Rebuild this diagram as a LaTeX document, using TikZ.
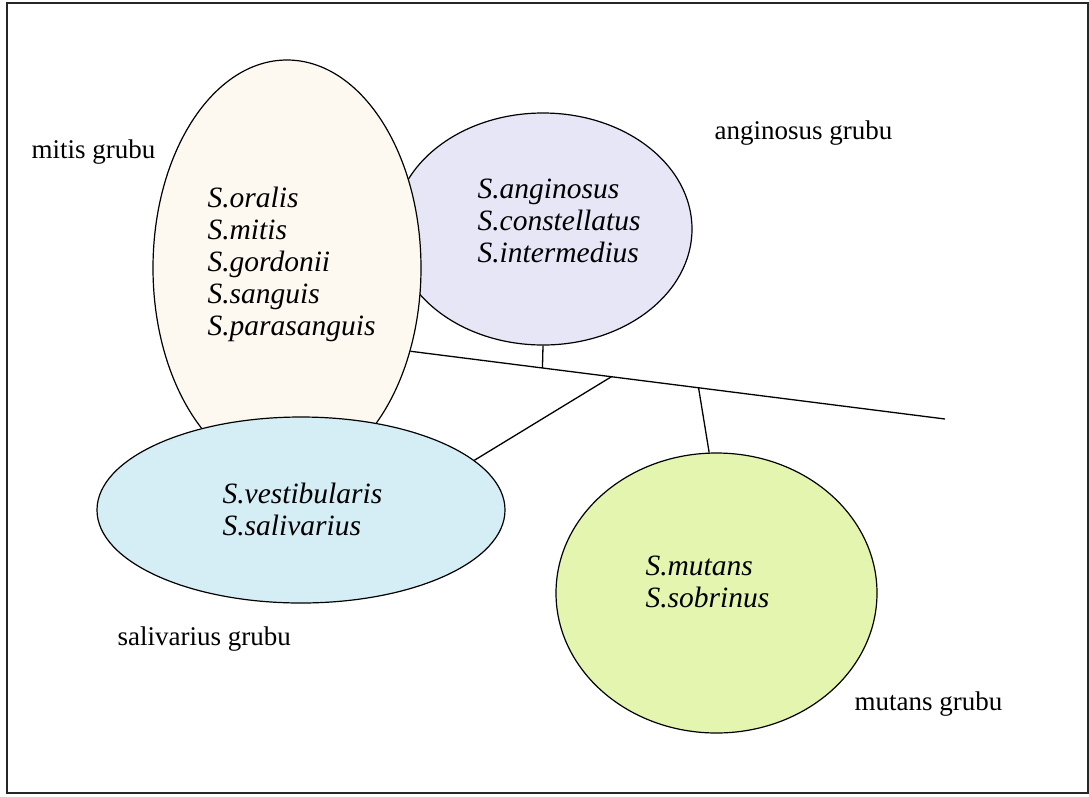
\documentclass[tikz,border=0pt]{standalone}
\usepackage{fontspec}
\setmainfont{Liberation Serif}
\usetikzlibrary{shapes.geometric,calc}
\definecolor{mitisfill}{HTML}{FDF9F0}
\definecolor{anginfill}{HTML}{E6E6F6}
\definecolor{salivfill}{HTML}{D5EEF6}
\definecolor{mutansfill}{HTML}{E4F5B0}

\begin{document}
\begin{tikzpicture}[x=1pt,y=-1pt,
	grp/.style={ellipse,draw,line width=1.2pt,inner sep=0pt},
	species/.style={anchor=base west,align=left,font=\fontsize{29.5}{32}\selectfont\itshape},
	grplabel/.style={anchor=base west,font=\fontsize{27}{32}\selectfont}]
	\useasboundingbox (0,0) rectangle (1089,796);
	\draw[line width=1.6pt,black!85] (7,3) rectangle (1088,793);
	% the four groups
	\node[grp,fill=anginfill,minimum width=298pt,minimum height=232pt] (angin) at (543,229) {};
	\node[grp,fill=mitisfill,minimum width=268pt,minimum height=416pt] (mitis) at (287,268) {};
	\node[grp,fill=salivfill,minimum width=408pt,minimum height=186pt] (saliv) at (301,510) {};
	\node[grp,fill=mutansfill,minimum width=321pt,minimum height=280pt] (mutans) at (716.5,593) {};
	% species lists (anchored at the last line)
	\node[species] (mitislist) at (204,335) {S.oralis\\S.mitis\\S.gordonii\\S.sanguis\\S.parasanguis};
	\node[species] (anginlist) at (474,262) {S.anginosus\\S.constellatus\\S.intermedius};
	\node[species] (salivlist) at (219,535) {S.vestibularis\\S.salivarius};
	\node[species] (mutanslist) at (642,607) {S.mutans\\S.sobrinus};
	% group names
	\node[grplabel] (mitisname) at (28,158) {mitis grubu};
	\node[grplabel] (anginname) at (711,139) {anginosus grubu};
	\node[grplabel] (salivname) at (114,645) {salivarius grubu};
	\node[grplabel] (mutansname) at (851,710) {mutans grubu};
	% tree
	\coordinate (tail) at (945,419);
	\draw[line width=1.3pt] (mitis.-34) -- (tail);
	\coordinate (ja) at ($(mitis.-34)!0.247!(tail)$);
	\coordinate (jb) at ($(mitis.-34)!0.376!(tail)$);
	\coordinate (jc) at ($(mitis.-34)!0.539!(tail)$);
	\draw[line width=1.3pt] (angin.south) -- (ja);
	\draw[line width=1.3pt] (saliv.16) -- (jb);
	\draw[line width=1.3pt] (jc) -- (mutans.93);
\end{tikzpicture}
\end{document}
